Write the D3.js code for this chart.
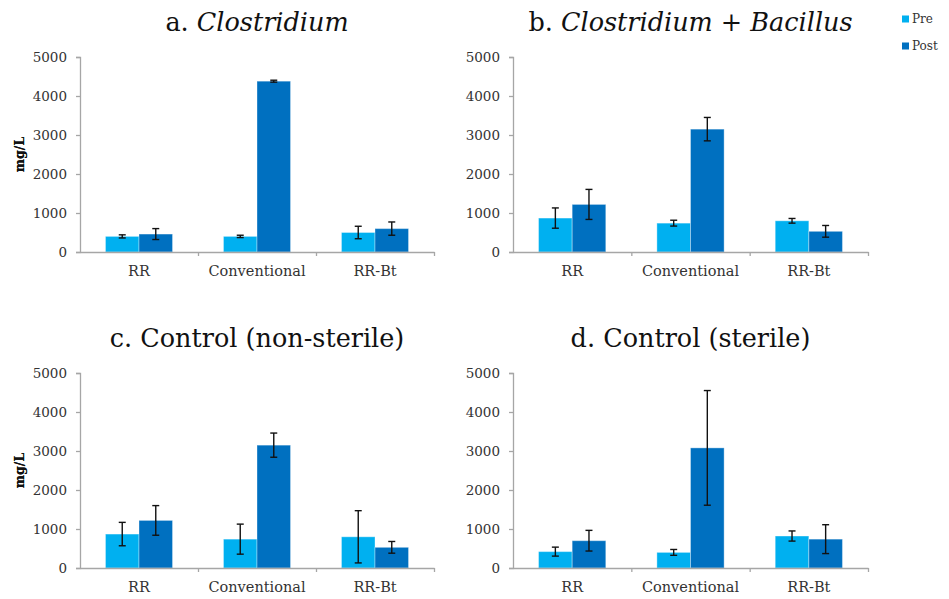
<!DOCTYPE html>
<html>
<head>
<meta charset="utf-8">
<script src="https://cdn.jsdelivr.net/npm/d3@7"></script>
<style>
  html, body { margin: 0; padding: 0; background: #fff; }
  svg { display: block; font-family: "DejaVu Serif", serif; }
</style>
</head>
<body>
<svg id="chart" width="949" height="599"></svg>
<script>
// Reducing sugar concentration (mg/L) before and after incubation
const categories = ["RR", "Conventional", "RR-Bt"];
const seriesNames = ["Pre", "Post"];
const yTicks = [0, 1000, 2000, 3000, 4000, 5000];

// a. Clostridium
const preA = [400, 400, 500];
const preErrA = [40, 30, 160];
const postA = [460, 4380, 600];
const postErrA = [140, 25, 170];

// b. Clostridium + Bacillus
const preB = [870, 740, 800];
const preErrB = [260, 75, 60];
const postB = [1220, 3150, 530];
const postErrB = [385, 300, 150];

// c. Control (non-sterile)
const preC = [870, 740, 800];
const preErrC = [300, 385, 670];
const postC = [1220, 3150, 530];
const postErrC = [380, 310, 150];

// d. Control (sterile)
const preD = [420, 400, 820];
const preErrD = [115, 75, 130];
const postD = [700, 3080, 740];
const postErrD = [265, 1470, 370];

const colors = { Pre: "#00B0F0", Post: "#0070C0" };

const panels = [
  { title: [["a. ", false], ["Clostridium", true]], pre: preA, preErr: preErrA, post: postA, postErr: postErrA, x0: 80, x1: 434, y0: 57, y1: 252 },
  { title: [["b. ", false], ["Clostridium", true], [" + ", false], ["Bacillus", true]], pre: preB, preErr: preErrB, post: postB, postErr: postErrB, x0: 513, x1: 868, y0: 57, y1: 252 },
  { title: [["c. Control (non-sterile)", false]], pre: preC, preErr: preErrC, post: postC, postErr: postErrC, x0: 80, x1: 434, y0: 373, y1: 568 },
  { title: [["d. Control (sterile)", false]], pre: preD, preErr: preErrD, post: postD, postErr: postErrD, x0: 513, x1: 868, y0: 373, y1: 568 }
];

const svg = d3.select("#chart");
const axisColor = "#a6a6a6";

panels.forEach(p => {
  const x = d3.scaleBand().domain(categories).range([p.x0, p.x1]).paddingInner(0).paddingOuter(0);
  const xs = d3.scaleBand().domain(seriesNames).range([0, x.bandwidth()]).paddingInner(0).paddingOuter(0.76);
  const y = d3.scaleLinear().domain([0, 5000]).range([p.y1, p.y0]);

  const g = svg.append("g");

  // title
  const t = g.append("text")
    .attr("x", (p.x0 + p.x1) / 2)
    .attr("y", p.y0 - 26)
    .attr("text-anchor", "middle")
    .attr("font-size", 25.5)
    .attr("fill", "#111");
  p.title.forEach(([s, it]) => {
    t.append("tspan").text(s).attr("font-style", it ? "italic" : "normal");
  });

  // y axis
  const ya = g.append("g")
    .attr("transform", `translate(${p.x0},0)`)
    .call(d3.axisLeft(y).tickValues(yTicks).tickSize(4).tickPadding(9).tickFormat(d3.format("d")));
  ya.select(".domain").attr("stroke", axisColor).attr("stroke-width", 1.3);
  ya.selectAll(".tick line").attr("stroke", axisColor).attr("stroke-width", 1.3);
  ya.selectAll(".tick text").attr("font-family", "DejaVu Serif").attr("font-size", 13.5).attr("fill", "#333");

  // y axis title
  g.append("text")
    .attr("transform", `translate(24,${(p.y0 + p.y1) / 2}) rotate(-90)`)
    .attr("text-anchor", "middle")
    .attr("font-size", 12.5)
    .attr("font-weight", "bold")
    .attr("fill", "#111")
    .text("mg/L");

  // bars
  categories.forEach((c, i) => {
    const vals = { Pre: [p.pre[i], p.preErr[i]], Post: [p.post[i], p.postErr[i]] };
    seriesNames.forEach(s => {
      const [v, e] = vals[s];
      const bx = x(c) + xs(s);
      const bw = xs.bandwidth();
      g.append("rect")
        .attr("x", bx)
        .attr("y", y(v))
        .attr("width", bw)
        .attr("height", y(0) - y(v))
        .attr("fill", colors[s])
        .attr("stroke", "#ffffff")
        .attr("stroke-opacity", 0.35)
        .attr("stroke-width", 1);
      // error bar
      const cx = bx + bw / 2;
      const eg = g.append("g").attr("stroke", "#111").attr("stroke-width", 1.4);
      eg.append("line").attr("x1", cx).attr("x2", cx).attr("y1", y(v + e)).attr("y2", y(Math.max(0, v - e)));
      eg.append("line").attr("x1", cx - 3.5).attr("x2", cx + 3.5).attr("y1", y(v + e)).attr("y2", y(v + e));
      eg.append("line").attr("x1", cx - 3.5).attr("x2", cx + 3.5).attr("y1", y(Math.max(0, v - e))).attr("y2", y(Math.max(0, v - e)));
    });
  });

  // x axis: category labels
  const xa = g.append("g")
    .attr("transform", `translate(0,${p.y1})`)
    .call(d3.axisBottom(x).tickSize(0).tickPadding(14));
  xa.select(".domain").attr("stroke", axisColor).attr("stroke-width", 1.3);
  xa.selectAll(".tick text").attr("font-family", "DejaVu Serif").attr("font-size", 14.5).attr("fill", "#333");

  // x axis: category boundary ticks
  const bounds = d3.scaleLinear().domain([0, categories.length]).range([p.x0, p.x1]);
  const xb = g.append("g")
    .attr("transform", `translate(0,${p.y1})`)
    .call(d3.axisBottom(bounds).tickValues([1, 2, 3]).tickSize(4).tickFormat(""));
  xb.select(".domain").remove();
  xb.selectAll(".tick line").attr("stroke", axisColor).attr("stroke-width", 1.3);
});

// legend
const legend = svg.append("g");
seriesNames.forEach((s, i) => {
  const ly = 19 + i * 27;
  legend.append("rect").attr("x", 902).attr("y", ly - 3.5).attr("width", 7).attr("height", 7).attr("fill", colors[s]);
  legend.append("text").attr("x", 912).attr("y", ly).attr("dy", "0.35em")
    .attr("font-size", 12).attr("fill", "#333").text(s);
});
</script>
</body>
</html>
